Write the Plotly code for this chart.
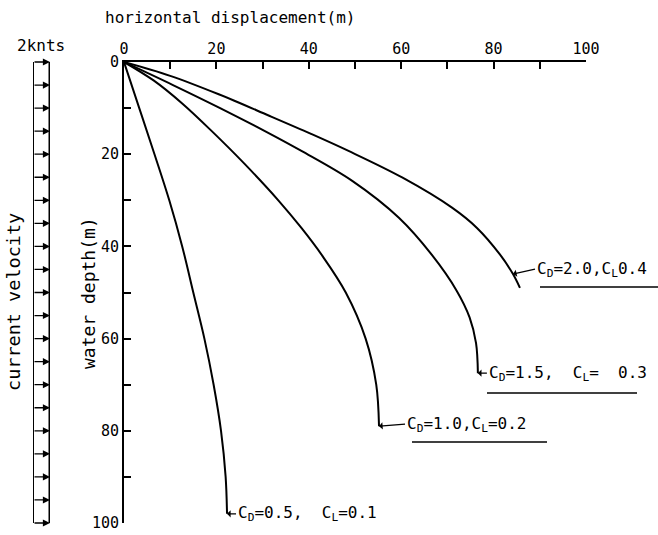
import plotly.graph_objects as go

W, H = 658, 535
FONT = "DejaVu Sans Mono"

# Mooring line profiles: horizontal displacement (m) against water depth (m)
depth_cd05 = [0, 10, 20, 30, 40, 50, 60, 70, 80, 90, 98]
disp_cd05 = [0, 3.3, 6.6, 9.8, 12.6, 15.0, 17.4, 19.4, 21.0, 22.0, 22.3]

depth_cd10 = [0, 4, 9, 15, 22, 30, 36, 42, 50, 60, 70, 79]
disp_cd10 = [0, 6.4, 12.6, 19.0, 26.0, 33.4, 38.4, 42.9, 48.0, 52.3, 54.6, 55.2]

depth_cd15 = [0, 5, 10, 15, 19.3, 25.8, 33.8, 41.8, 49.6, 55.4, 61, 67.5]
disp_cd15 = [0, 10.6, 20.8, 30.5, 38.4, 49.4, 59.5, 66.6, 72.0, 74.8, 76.2, 76.6]

depth_cd20 = [0, 3, 7, 11.6, 15.6, 19.3, 25.1, 31.6, 36, 41.8, 46, 49]
disp_cd20 = [0, 10.0, 20.5, 31.3, 40.5, 48.6, 60.3, 71.0, 76.4, 81.4, 84.2, 85.7]

curve_labels = [
    "C<sub>D</sub>=0.5,  C<sub>L</sub>=0.1",
    "C<sub>D</sub>=1.0,C<sub>L</sub>=0.2",
    "C<sub>D</sub>=1.5,  C<sub>L</sub>=  0.3",
    "C<sub>D</sub>=2.0,C<sub>L</sub>0.4",
]

# Uniform current profile (2 knots) sampled every 5 m
current_depths = list(range(0, 101, 5))
current_speed = 2.0

x_ticks = [0, 20, 40, 60, 80, 100]
y_ticks = [0, 20, 40, 60, 80, 100]


def px(v):
    return v / W


def py(v):
    return 1 - v / H


fig = go.Figure()

for xs, ys in [(disp_cd05, depth_cd05), (disp_cd10, depth_cd10),
               (disp_cd15, depth_cd15), (disp_cd20, depth_cd20)]:
    fig.add_trace(go.Scatter(
        x=xs, y=ys, mode="lines",
        line=dict(color="black", width=2, shape="spline", smoothing=1.0),
        showlegend=False, hoverinfo="skip", cliponaxis=False,
    ))

# Current velocity column: the two verticals of the profile
for xv, w in [(0, 2), (current_speed, 3)]:
    fig.add_trace(go.Scatter(
        x=[xv, xv], y=[current_depths[0], current_depths[-1]],
        xaxis="x2", yaxis="y", mode="lines",
        line=dict(color="black", width=w),
        showlegend=False, hoverinfo="skip", cliponaxis=False,
    ))

annotations = []

# Velocity arrows
for d in current_depths:
    annotations.append(dict(
        x=current_speed, y=d, xref="x2", yref="y",
        ax=0, ay=d, axref="x2", ayref="y",
        text="", showarrow=True, arrowhead=2, arrowsize=1.1,
        arrowwidth=1.3, arrowcolor="black",
    ))

# Curve labels with pointer arrows
label_specs = [
    (disp_cd05[-1], depth_cd05[-1], 9, 0),
    (disp_cd10[-1], depth_cd10[-1], 26, -2),
    (disp_cd15[-1], depth_cd15[-1], 9, 0),
    (disp_cd20[-2], depth_cd20[-2], 22, -5),
]
for (xv, yv, axp, ayp), txt in zip(label_specs, curve_labels):
    annotations.append(dict(
        x=xv, y=yv, xref="x", yref="y", ax=axp, ay=ayp,
        text=txt, showarrow=True, arrowhead=1, arrowsize=1,
        arrowwidth=1.2, arrowcolor="black", xanchor="left",
        font=dict(family=FONT, size=16, color="black"),
    ))


def label(x, y, text, angle=0, size=16):
    return dict(x=px(x), y=py(y), xref="paper", yref="paper",
                xanchor="center", yanchor="middle",
                text=text, showarrow=False, textangle=angle,
                font=dict(family=FONT, size=size, color="black"))


annotations += [
    label(230, 17, "horizontal displacement(m)"),
    label(41, 45, "2knts"),
    label(13, 302, "current velocity", -90, 18.5),
    label(88, 293, "water depth(m)", -90, 18),
]

# Underlines beneath the curve labels
underlines = [(412, 547, 442), (487, 637, 393), (540, 658, 287)]
shapes = [
    dict(type="line", xref="paper", yref="paper",
         x0=px(a), x1=px(b), y0=py(c), y1=py(c),
         line=dict(color="black", width=1.3))
    for a, b, c in underlines
]

axis_common = dict(
    ticks="inside", ticklen=7, tickwidth=2, tickcolor="black",
    showline=True, linewidth=2, linecolor="black",
    showgrid=False, zeroline=False, automargin=False,
    tickfont=dict(family=FONT, size=15, color="black"),
    minor=dict(dtick=10, ticks="inside", ticklen=7, tickwidth=2,
               tickcolor="black", showgrid=False),
)

fig.update_layout(
    template="none",
    width=W, height=H,
    margin=dict(l=0, r=0, t=0, b=0, autoexpand=False),
    paper_bgcolor="white", plot_bgcolor="white",
    font=dict(family=FONT, size=15, color="black"),
    xaxis=dict(domain=[px(124), px(586)], range=[0, 100], side="top",
               tickvals=x_ticks, anchor="y", **axis_common),
    yaxis=dict(domain=[py(523), py(62)], range=[100, 0],
               tickvals=y_ticks, anchor="x", **axis_common),
    xaxis2=dict(domain=[px(33), px(50)], range=[0, current_speed],
                visible=False, anchor="y", automargin=False),
    annotations=annotations,
    shapes=shapes,
)

fig.write_html("out.html")
